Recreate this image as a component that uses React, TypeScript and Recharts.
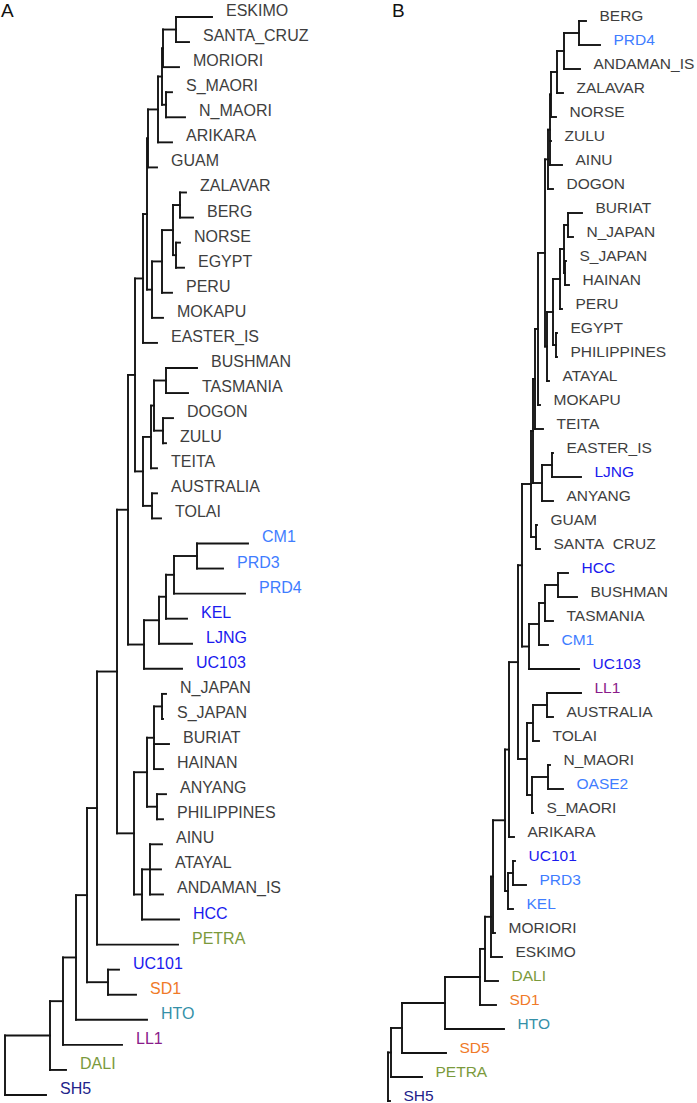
import React from 'react';
import { ComposedChart, XAxis, YAxis, ReferenceLine, Scatter } from 'recharts';

// ---------- Panel A ----------
const leavesA = ['ESKIMO','SANTA_CRUZ','MORIORI','S_MAORI','N_MAORI','ARIKARA','GUAM','ZALAVAR','BERG','NORSE','EGYPT','PERU','MOKAPU','EASTER_IS','BUSHMAN','TASMANIA','DOGON','ZULU','TEITA','AUSTRALIA','TOLAI','CM1','PRD3','PRD4','KEL','LJNG','UC103','N_JAPAN','S_JAPAN','BURIAT','HAINAN','ANYANG','PHILIPPINES','AINU','ATAYAL','ANDAMAN_IS','HCC','PETRA','UC101','SD1','HTO','LL1','DALI','SH5'];
// branch tip depth (distance from root) for each leaf
const tipsA = [207,184,174,167,180,167,152,181,188,175,179,167,158,152,192,183,168,161,152,152,156,243,218,240,182,187,177,161,158,164,158,161,158,157,156,158,174,173,114,131,142,117,61,41];
// internal nodes: [id, depth, children]
const nodesA: [string, number, string[]][] = [
  ['a1',171,['ESKIMO','SANTA_CRUZ']],
  ['a2',158,['a1','MORIORI']],
  ['a3',161,['S_MAORI','N_MAORI']],
  ['a4',157,['a2','a3']],
  ['a5',153,['a4','ARIKARA']],
  ['a6',143,['a5','GUAM']],
  ['a7',175,['ZALAVAR','BERG']],
  ['a8',171,['NORSE','EGYPT']],
  ['a9',168,['a7','a8']],
  ['a10',157,['a9','PERU']],
  ['a11',147,['a10','MOKAPU']],
  ['a12',142,['a6','a11']],
  ['a13',138,['a12','EASTER_IS']],
  ['a14',161,['BUSHMAN','TASMANIA']],
  ['a15',158,['DOGON','ZULU']],
  ['a16',149,['a14','a15']],
  ['a17',146,['a16','TEITA']],
  ['a18',147,['AUSTRALIA','TOLAI']],
  ['a19',138,['a17','a18']],
  ['a20',130,['a13','a19']],
  ['a21',192,['CM1','PRD3']],
  ['a22',169,['a21','PRD4']],
  ['a23',161,['a22','KEL']],
  ['a24',154,['a23','LJNG']],
  ['a25',139,['a24','UC103']],
  ['a26',123,['a20','a25']],
  ['a27',157,['N_JAPAN','S_JAPAN']],
  ['a28',149,['a27','BURIAT','HAINAN']],
  ['a29',152,['ANYANG','PHILIPPINES']],
  ['a30',142,['a28','a29']],
  ['a31',145,['AINU','ATAYAL','ANDAMAN_IS']],
  ['a32',137,['a31','HCC']],
  ['a33',129,['a30','a32']],
  ['a34',112,['a26','a33']],
  ['a35',92,['a34','PETRA']],
  ['a36',103,['UC101','SD1']],
  ['a37',82,['a35','a36']],
  ['a38',71,['a37','HTO']],
  ['a39',58,['a38','LL1']],
  ['a40',45,['a39','DALI']],
  ['a41',0,['a40','SH5']],
];
const lightBlueA = ['CM1','PRD3','PRD4'];
const blueA = ['KEL','LJNG','UC103','HCC','UC101'];
const greenA = ['PETRA','DALI'];
const orangeA = ['SD1'];
const tealA = ['HTO'];
const purpleA = ['LL1'];
const navyA = ['SH5'];

// ---------- Panel B ----------
const leavesB = ['BERG','PRD4','ANDAMAN_IS','ZALAVAR','NORSE','ZULU','AINU','DOGON','BURIAT','N_JAPAN','S_JAPAN','HAINAN','PERU','EGYPT','PHILIPPINES','ATAYAL','MOKAPU','TEITA','EASTER_IS','LJNG','ANYANG','GUAM','SANTA\u00a0\u00a0CRUZ','HCC','BUSHMAN','TASMANIA','CM1','UC103','LL1','AUSTRALIA','TOLAI','N_MAORI','OASE2','S_MAORI','ARIKARA','UC101','PRD3','KEL','MORIORI','ESKIMO','DALI','SD1','HTO','SD5','PETRA','SH5'];
const tipsB = [198,212,192,175,168,163,174,165,194,185,178,181,174,169,169,161,152,155,165,193,165,149,152,180,189,165,160,191,193,165,151,162,175,145,126,127,138,125,107,114,110,108,116,58,34,2];
const nodesB: [string, number, string[]][] = [
  ['b1',191,['BERG','PRD4']],
  ['b2',176,['b1','ANDAMAN_IS']],
  ['b3',169,['b2','ZALAVAR']],
  ['b4',163,['b3','NORSE']],
  ['b5',162,['b4','ZULU','AINU']],
  ['b6',160,['b5','DOGON']],
  ['c1',180,['BURIAT','N_JAPAN']],
  ['c2a',177,['S_JAPAN','HAINAN']],
  ['c2',176,['c1','c2a']],
  ['c3',172,['c2','PERU']],
  ['c4',168,['EGYPT','PHILIPPINES']],
  ['c5',165,['c3','c4']],
  ['c6',159,['c5','ATAYAL']],
  ['d1',157,['b6','c6']],
  ['d2',150,['d1','MOKAPU']],
  ['d3',147,['d2','TEITA']],
  ['f1',164,['EASTER_IS','LJNG']],
  ['f2',154,['f1','ANYANG']],
  ['f3',145,['d3','f2']],
  ['g1',148,['GUAM','SANTA\u00a0\u00a0CRUZ']],
  ['f4',143,['f3','g1']],
  ['k1',170,['HCC','BUSHMAN']],
  ['k2',157,['k1','TASMANIA']],
  ['k3',151,['k2','CM1']],
  ['k4',141,['k3','UC103']],
  ['r1',134,['f4','k4']],
  ['m1',159,['LL1','AUSTRALIA']],
  ['m2',145,['m1','TOLAI']],
  ['n1',160,['N_MAORI','OASE2']],
  ['n2',144,['n1','S_MAORI']],
  ['mn',139,['m2','n2']],
  ['s',130,['r1','mn']],
  ['t1',121,['s','ARIKARA']],
  ['u1',125,['UC101','PRD3']],
  ['u2',120,['u1','KEL']],
  ['t2',117,['t1','u2']],
  ['v1',105,['t2','MORIORI']],
  ['v2',103,['v1','ESKIMO']],
  ['v3',97,['v2','DALI']],
  ['v4',92,['v3','SD1']],
  ['w1',57,['v4','HTO']],
  ['w2',14,['w1','SD5']],
  ['w3',3,['w2','PETRA']],
  ['w4',0,['w3','SH5']],
];
const lightBlueB = ['PRD4','CM1','OASE2','PRD3','KEL'];
const blueB = ['LJNG','HCC','UC103','UC101'];
const greenB = ['DALI','PETRA'];
const orangeB = ['SD1','SD5'];
const tealB = ['HTO'];
const purpleB = ['LL1'];
const navyB = ['SH5'];

// ---------- styles ----------
const palette = {
  grey: '#3e3e3e',
  light: '#3f7dff',
  blue: '#1a1aee',
  green: '#7b9a3c',
  orange: '#f07a28',
  teal: '#3490a8',
  purple: '#8a1c8a',
  navy: '#22228a',
};
const FONT = '"Liberation Sans", Arial, sans-serif';

function colorFor(name: string, g: { light: string[]; blue: string[]; green: string[]; orange: string[]; teal: string[]; purple: string[]; navy: string[] }) {
  if (g.light.includes(name)) return palette.light;
  if (g.blue.includes(name)) return palette.blue;
  if (g.green.includes(name)) return palette.green;
  if (g.orange.includes(name)) return palette.orange;
  if (g.teal.includes(name)) return palette.teal;
  if (g.purple.includes(name)) return palette.purple;
  if (g.navy.includes(name)) return palette.navy;
  return palette.grey;
}

type Seg = { x1: number; y1: number; x2: number; y2: number };

function buildSegments(leaves: string[], tips: number[], nodes: [string, number, string[]][]): Seg[] {
  const pos = new Map<string, { x: number; y: number }>();
  leaves.forEach((n, i) => pos.set(n, { x: tips[i], y: i }));
  const segs: Seg[] = [];
  for (const [id, depth, kids] of nodes) {
    const ps = kids.map((k) => pos.get(k)!);
    const yTop = ps[0].y;
    const yBot = ps[ps.length - 1].y;
    segs.push({ x1: depth, y1: yTop, x2: depth, y2: yBot });
    ps.forEach((p) => segs.push({ x1: depth, y1: p.y, x2: p.x, y2: p.y }));
    pos.set(id, { x: depth, y: (yTop + yBot) / 2 });
  }
  return segs;
}

type TreeProps = {
  leaves: string[];
  tips: number[];
  nodes: [string, number, string[]][];
  groups: any;
  width: number;
  height: number;
  xDomain: [number, number];
  yDomain: [number, number];
  fontSize: number;
  labelDx: number;
  labelDy: number;
};

function Tree({ leaves, tips, nodes, groups, width, height, xDomain, yDomain, fontSize, labelDx, labelDy }: TreeProps) {
  const segs = buildSegments(leaves, tips, nodes);
  const labels = leaves.map((n, i) => ({ x: tips[i], y: i, name: n, color: colorFor(n, groups) }));
  return (
    <ComposedChart width={width} height={height} margin={{ top: 0, right: 0, bottom: 0, left: 0 }}>
      <XAxis type="number" dataKey="x" domain={xDomain} allowDataOverflow hide />
      <YAxis type="number" dataKey="y" domain={yDomain} allowDataOverflow reversed hide />
      {segs.map((s, i) => (
        <ReferenceLine
          key={i}
          segment={[{ x: s.x1, y: s.y1 }, { x: s.x2, y: s.y2 }]}
          stroke="#141414"
          strokeWidth={1.9}
          strokeLinecap="square"
          ifOverflow="visible"
        />
      ))}
      <Scatter
        data={labels}
        isAnimationActive={false}
        shape={(p: any) => (
          <text
            x={p.cx + labelDx}
            y={p.cy + labelDy}
            fill={p.payload.color}
            fontSize={fontSize}
            fontFamily={FONT}
          >
            {p.payload.name}
          </text>
        )}
      />
    </ComposedChart>
  );
}

export default function App() {
  const groupsA = { light: lightBlueA, blue: blueA, green: greenA, orange: orangeA, teal: tealA, purple: purpleA, navy: navyA };
  const groupsB = { light: lightBlueB, blue: blueB, green: greenB, orange: orangeB, teal: tealB, purple: purpleB, navy: navyB };
  const stepA = 25.07;
  const a0 = -17 / stepA;
  const stepB = 24;
  const b0 = -21 / stepB;
  return (
    <div style={{ position: 'absolute', left: 0, top: 0, width: 697, height: 1103, background: '#fff', overflow: 'hidden' }}>
      <div style={{ position: 'absolute', left: 0, top: 0 }}>
        <Tree
          leaves={leavesA}
          tips={tipsA}
          nodes={nodesA}
          groups={groupsA}
          width={340}
          height={1103}
          xDomain={[-5, 335]}
          yDomain={[a0, a0 + 1103 / stepA]}
          fontSize={16}
          labelDx={14}
          labelDy={-1}
        />
      </div>
      <div style={{ position: 'absolute', left: 340, top: 0 }}>
        <Tree
          leaves={leavesB}
          tips={tipsB}
          nodes={nodesB}
          groups={groupsB}
          width={357}
          height={1103}
          xDomain={[-48, 309]}
          yDomain={[b0, b0 + 1103 / stepB]}
          fontSize={15.5}
          labelDx={13.5}
          labelDy={-0.5}
        />
      </div>
      <div style={{ position: 'absolute', left: 1, top: 1, fontFamily: FONT, fontSize: 19, color: '#111', lineHeight: '20px' }}>A</div>
      <div style={{ position: 'absolute', left: 392, top: 1, fontFamily: FONT, fontSize: 19, color: '#111', lineHeight: '20px' }}>B</div>
    </div>
  );
}
